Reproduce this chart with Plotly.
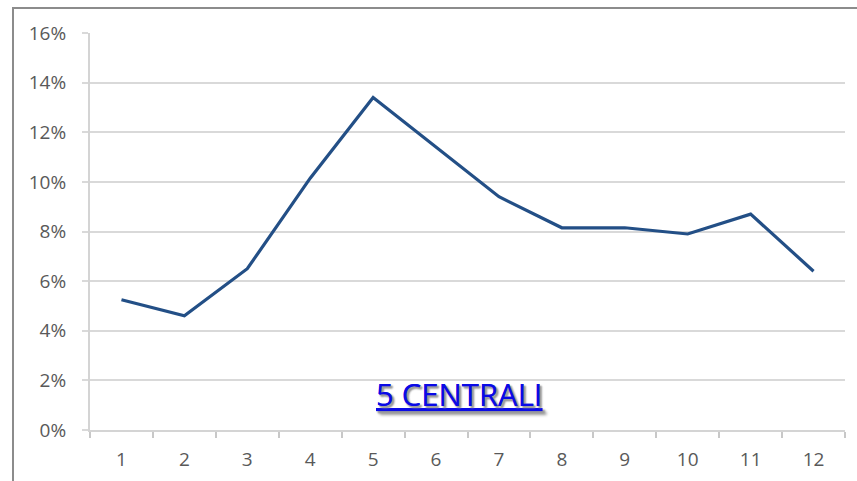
import plotly.graph_objects as go

# Monthly share, 1..12
months = [str(m) for m in range(1, 13)]
share = [0.0525, 0.046, 0.065, 0.1015, 0.134, 0.114, 0.094, 0.0815, 0.0815, 0.079, 0.087, 0.064]
y_ticks = [0, 0.02, 0.04, 0.06, 0.08, 0.10, 0.12, 0.14, 0.16]
title_text = "5 CENTRALI"

W, H = 857, 481
L, R, T, B = 90, 12, 33, 51
pw, ph = W - L - R, H - T - B

axis_grey = "#d4d4d4"
label_grey = "#595959"
font_family = "Open Sans, Noto Sans, sans-serif"

fig = go.Figure()
fig.add_trace(go.Scatter(
    x=months, y=share, mode="lines",
    line=dict(color="#234f86", width=3.2),
    hoverinfo="skip", showlegend=False,
))

fig.update_layout(
    width=W, height=H,
    margin=dict(l=L, r=R, t=T, b=B, autoexpand=False),
    paper_bgcolor="white", plot_bgcolor="white",
    font=dict(family=font_family, size=16, color=label_grey),
    xaxis=dict(
        type="category", tickson="boundaries",
        range=[-0.5, len(months) - 0.5], automargin=False,
        showgrid=False, showline=True, linecolor=axis_grey, linewidth=2,
        ticks="outside", ticklen=6, tickwidth=1.5, tickcolor="#c8c8c8",
        ticklabelstandoff=11,
        tickfont=dict(size=19, color=label_grey),
        zeroline=False, fixedrange=True,
    ),
    yaxis=dict(
        range=[0, 0.16], tickvals=y_ticks, tickformat=".0%",
        automargin=False,
        showgrid=True, gridcolor="#d9d9d9", gridwidth=2,
        showline=True, linecolor=axis_grey, linewidth=2,
        ticks="outside", ticklen=6, tickwidth=2, tickcolor="#d9d9d9",
        ticklabelstandoff=12,
        tickfont=dict(size=19, color=label_grey),
        zeroline=False, fixedrange=True,
    ),
)

# outer frame (left and top edges visible)
fig.add_shape(
    type="rect", xref="paper", yref="paper",
    x0=(13 - L) / pw, x1=(W + 5 - L) / pw,
    y0=-(H + 10 - (H - B)) / ph, y1=1 + (T - 8) / ph,
    line=dict(color="#8c8c8c", width=2), fillcolor="rgba(0,0,0,0)",
    layer="below",
)

fig.add_annotation(
    text="<u>" + title_text + "</u>",
    xref="paper", yref="paper",
    x=(459 - L) / pw, y=((H - B) - 394) / ph,
    xanchor="center", yanchor="middle", showarrow=False,
    font=dict(family=font_family, size=31, color="#0a0ae6",
              shadow="2px 2px 2px #9a9a9a"),
)

fig.write_html("out.html")
